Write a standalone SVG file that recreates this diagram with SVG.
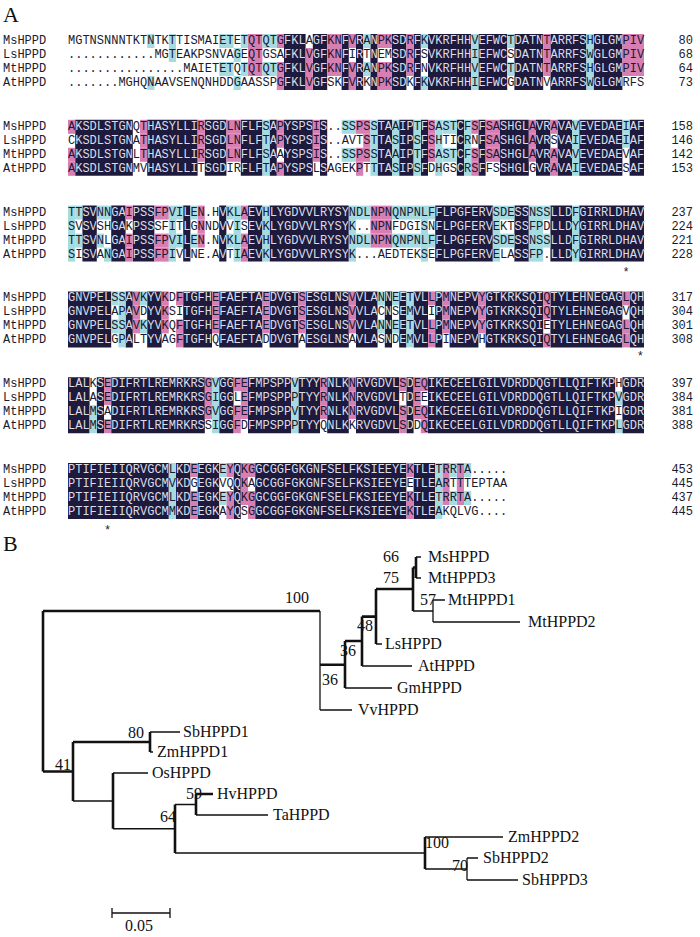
<svg xmlns="http://www.w3.org/2000/svg" xmlns:xlink="http://www.w3.org/1999/xlink" width="700" height="937" viewBox="0 0 700 937">
<style>
.mono{font-family:"Liberation Mono","Courier New",monospace;font-size:12px}
.ser{font-family:"Liberation Serif","Times New Roman",serif;font-size:16px;fill:#111}
.big{font-family:"Liberation Serif","Times New Roman",serif;font-size:22px;fill:#111}
.pk{fill:#d77fb3}.cy{fill:#a6dbe2}.dk{fill:#1d1a3e}
.th{stroke:#111;stroke-width:1.3;fill:none}
.tk{stroke:#111;stroke-width:2.6;fill:none}
</style>
<defs>
<clipPath id="k0" transform="translate(68,34) scale(7.2,1)"><rect x="30" y="0" width="3" height="56"/><rect x="34" y="0" width="2" height="56"/><rect x="38" y="0" width="1" height="56"/><rect x="40" y="0" width="1" height="56"/><rect x="42" y="0" width="1" height="56"/><rect x="45" y="0" width="2" height="56"/><rect x="48" y="0" width="1" height="56"/><rect x="50" y="0" width="6" height="56"/><rect x="57" y="0" width="4" height="56"/><rect x="62" y="0" width="4" height="56"/><rect x="67" y="0" width="5" height="56"/><rect x="73" y="0" width="4" height="56"/></clipPath>
<clipPath id="k1" transform="translate(68,119.8) scale(7.2,1)"><rect x="1" y="0" width="8" height="56"/><rect x="11" y="0" width="7" height="56"/><rect x="19" y="0" width="3" height="56"/><rect x="24" y="0" width="3" height="56"/><rect x="28" y="0" width="1" height="56"/><rect x="30" y="0" width="4" height="56"/><rect x="35" y="0" width="1" height="56"/><rect x="43" y="0" width="2" height="56"/><rect x="46" y="0" width="2" height="56"/><rect x="49" y="0" width="1" height="56"/><rect x="54" y="0" width="1" height="56"/><rect x="57" y="0" width="1" height="56"/><rect x="60" y="0" width="4" height="56"/><rect x="65" y="0" width="2" height="56"/><rect x="68" y="0" width="2" height="56"/><rect x="71" y="0" width="6" height="56"/><rect x="78" y="0" width="2" height="56"/></clipPath>
<clipPath id="k2" transform="translate(68,205.6) scale(7.2,1)"><rect x="2" y="0" width="2" height="56"/><rect x="6" y="0" width="2" height="56"/><rect x="9" y="0" width="3" height="56"/><rect x="16" y="0" width="1" height="56"/><rect x="21" y="0" width="1" height="56"/><rect x="25" y="0" width="2" height="56"/><rect x="28" y="0" width="11" height="56"/><rect x="51" y="0" width="8" height="56"/><rect x="62" y="0" width="2" height="56"/><rect x="67" y="0" width="3" height="56"/><rect x="71" y="0" width="9" height="56"/></clipPath>
<clipPath id="k3" transform="translate(68,291.4) scale(7.2,1)"><rect x="0" y="0" width="6" height="56"/><rect x="8" y="0" width="1" height="56"/><rect x="11" y="0" width="2" height="56"/><rect x="16" y="0" width="4" height="56"/><rect x="21" y="0" width="6" height="56"/><rect x="28" y="0" width="4" height="56"/><rect x="33" y="0" width="6" height="56"/><rect x="40" y="0" width="3" height="56"/><rect x="44" y="0" width="1" height="56"/><rect x="46" y="0" width="1" height="56"/><rect x="48" y="0" width="2" height="56"/><rect x="51" y="0" width="1" height="56"/><rect x="53" y="0" width="4" height="56"/><rect x="58" y="0" width="8" height="56"/><rect x="67" y="0" width="10" height="56"/><rect x="78" y="0" width="2" height="56"/></clipPath>
<clipPath id="k4" transform="translate(68,377.2) scale(7.2,1)"><rect x="0" y="0" width="3" height="56"/><rect x="4" y="0" width="1" height="56"/><rect x="6" y="0" width="13" height="56"/><rect x="21" y="0" width="2" height="56"/><rect x="25" y="0" width="6" height="56"/><rect x="32" y="0" width="3" height="56"/><rect x="36" y="0" width="3" height="56"/><rect x="40" y="0" width="6" height="56"/><rect x="47" y="0" width="1" height="56"/><rect x="50" y="0" width="26" height="56"/><rect x="77" y="0" width="3" height="56"/></clipPath>
<clipPath id="k5" transform="translate(68,463) scale(7.2,1)"><rect x="0" y="0" width="14" height="56"/><rect x="15" y="0" width="2" height="56"/><rect x="18" y="0" width="3" height="56"/><rect x="23" y="0" width="1" height="56"/><rect x="26" y="0" width="21" height="56"/><rect x="48" y="0" width="3" height="56"/></clipPath>
<g id="t0" class="mono">
<text x="3" y="44">MsHPPD</text><text x="68" y="44">MGTNSNNNTKTNTKTTISMAIETETQTQTGFKLAGFKNFVRANPKSDRFKVKRFHHVEFWCTDATNTARRFSHGLGMPIV</text><text x="693" y="44" text-anchor="end">80</text>
<text x="3" y="58">LsHPPD</text><text x="68" y="58">............MGTEAKPSNVAGEQTGSAFKLVGFKNFIRTNEMSDRFSVKRFHHIEFWCSDATNTARRFSWGLGMPIV</text><text x="693" y="58" text-anchor="end">68</text>
<text x="3" y="72">MtHPPD</text><text x="68" y="72">................MAIETETQTQTQTGFKLVGFKNFVRANPKSDRFNVKRFHHVEFWCTDATNTARRFSHGLGMPIV</text><text x="693" y="72" text-anchor="end">64</text>
<text x="3" y="86">AtHPPD</text><text x="68" y="86">.......MGHQNAAVSENQNHDDGAASSPGFKLVGFSKFVRKNPKSDKFKVKRFHHIEFWCGDATNVARRFSWGLGMRFS</text><text x="693" y="86" text-anchor="end">73</text>
</g>
<g id="t1" class="mono">
<text x="3" y="129.8">MsHPPD</text><text x="68" y="129.8">AKSDLSTGNQTHASYLLIRSGDLNFLFSAPYSPSIS..SSPSSTAAIPTFSASTCFSFSASHGLAVRAVAVEVEDAEIAF</text><text x="693" y="129.8" text-anchor="end">158</text>
<text x="3" y="143.8">LsHPPD</text><text x="68" y="143.8">CKSDLSTGNATHASYLLIRSGDLNFLFTAPYSPSIS..AVTSTTASIPSFSHTICRNFSASHGLAVRSVAIEVEDAEIAF</text><text x="693" y="143.8" text-anchor="end">146</text>
<text x="3" y="157.8">MtHPPD</text><text x="68" y="157.8">AKSDLSTGNLTHASYLLIRSGDLNFLFSAAYSPSIS..SSPSSTAAIPTFSASTCFSFSASHGLAVRAVAVEVEDAEVAF</text><text x="693" y="157.8" text-anchor="end">142</text>
<text x="3" y="171.8">AtHPPD</text><text x="68" y="171.8">AKSDLSTGNMVHASYLLITSGDIRFLFTAPYSPSLSAGEKPTTTASIPSFDHGSCRSFFSSHGLGVRAVAIEVEDAESAF</text><text x="693" y="171.8" text-anchor="end">153</text>
</g>
<g id="t2" class="mono">
<text x="3" y="215.6">MsHPPD</text><text x="68" y="215.6">TTSVNNGAIPSSFPVILEN.HVKLAEVHLYGDVVLRYSYNDLNPNQNPNLFFLPGFERVSDESSNSSLLDFGIRRLDHAV</text><text x="693" y="215.6" text-anchor="end">237</text>
<text x="3" y="229.6">LsHPPD</text><text x="68" y="229.6">SVSVSHGAKPSSSFITLGNNDVVISEVKLYGDVVLRYSYK..NPNFDGISNFLPGFERVEKTSSFPDLLDYGIRRLDHAV</text><text x="693" y="229.6" text-anchor="end">224</text>
<text x="3" y="243.6">MtHPPD</text><text x="68" y="243.6">TTSVNLGAIPSSFPVILEN.NVKLAEVHLYGDVVLRYSYNDLNPNQNPNLFFLPGFERVSDESSNSSLLDFGIRRLDHAV</text><text x="693" y="243.6" text-anchor="end">221</text>
<text x="3" y="257.6">AtHPPD</text><text x="68" y="257.6">SISVANGAIPSSFPIVLNE.AVTIAEVKLYGDVVLRYSYK...AEDTEKSEFLPGFERVELASSFP.LLDYGIRRLDHAV</text><text x="693" y="257.6" text-anchor="end">228</text>
</g>
<g id="t3" class="mono">
<text x="3" y="301.4">MsHPPD</text><text x="68" y="301.4">GNVPELSSAVKYVKDFTGFHEFAEFTAEDVGTSESGLNSVVLANNEETVLLPMNEPVYGTKRKSQIQTYLEHNEGAGLQH</text><text x="693" y="301.4" text-anchor="end">317</text>
<text x="3" y="315.4">LsHPPD</text><text x="68" y="315.4">GNVPELAPAVDYVKSITGFHEFAEFTAEDVGTSESGLNSVVLACNSEMVLIPMNEPVYGTKRKSQIQTYLEHNEGAGVQH</text><text x="693" y="315.4" text-anchor="end">304</text>
<text x="3" y="329.4">MtHPPD</text><text x="68" y="329.4">GNVPELSSAVKYVKQFTGFHEFAEFTAEDVGTSESGLNSVVLANNEETVLLPMNEPVYGTKRKSQIETYLEHNEGAGLQH</text><text x="693" y="329.4" text-anchor="end">301</text>
<text x="3" y="343.4">AtHPPD</text><text x="68" y="343.4">GNVPELGPALTYVAGFTGFHQFAEFTADDVGTAESGLNSAVLASNDEMVLLPINEPVHGTKRKSQIQTYLEHNEGAGLQH</text><text x="693" y="343.4" text-anchor="end">308</text>
</g>
<g id="t4" class="mono">
<text x="3" y="387.2">MsHPPD</text><text x="68" y="387.2">LALKSEDIFRTLREMRKRSGVGGFEFMPSPPVTYYRNLKNRVGDVLSDEQIKECEELGILVDRDDQGTLLQIFTKPHGDR</text><text x="693" y="387.2" text-anchor="end">397</text>
<text x="3" y="401.2">LsHPPD</text><text x="68" y="401.2">LALASEDIFRTLREMRKRSGIGGLEFMPSPPPTYYRNLKNRVGDVLTDEEIKECEELGILVDRDDQGTLLQIFTKPVGDR</text><text x="693" y="401.2" text-anchor="end">384</text>
<text x="3" y="415.2">MtHPPD</text><text x="68" y="415.2">LALMSADIFRTLREMRKRSGVGGFEFMPSPPVTYYRNLKNRVGDVLSDEQIKECEELGILVDRDDQGTLLQIFTKPIGDR</text><text x="693" y="415.2" text-anchor="end">381</text>
<text x="3" y="429.2">AtHPPD</text><text x="68" y="429.2">LALMSEDIFRTLREMRKRSSIGGFDFMPSPPPTYYQNLKKRVGDVLSDDQIKECEELGILVDRDDQGTLLQIFTKPLGDR</text><text x="693" y="429.2" text-anchor="end">388</text>
</g>
<g id="t5" class="mono">
<text x="3" y="473">MsHPPD</text><text x="68" y="473">PTIFIEIIQRVGCMLKDEEGKEYQKGGCGGFGKGNFSELFKSIEEYEKTLETRRTA.....</text><text x="693" y="473" text-anchor="end">453</text>
<text x="3" y="487">LsHPPD</text><text x="68" y="487">PTIFIEIIQRVGCMVKDGEGKVQQKAGCGGFGKGNFSELFKSIEEYEETLEARTTTEPTAA</text><text x="693" y="487" text-anchor="end">445</text>
<text x="3" y="501">MtHPPD</text><text x="68" y="501">PTIFIEIIQRVGCMLKDEEGKEYQKGGCGGFGKGNFSELFKSIEEYEKTLETRRTA.....</text><text x="693" y="501" text-anchor="end">437</text>
<text x="3" y="515">AtHPPD</text><text x="68" y="515">PTIFIEIIQRVGCMMKDEEGKAYQSGGCGGFGKGNFSELFKSIEEYEKTLEAKQLVG....</text><text x="693" y="515" text-anchor="end">445</text>
</g>
</defs>
<rect width="700" height="937" fill="#fff"/>
<text class="big" x="3" y="22">A</text>
<text class="big" x="3" y="551">B</text>

<g id="block1">
<rect class="dk" x="0" y="0" width="700" height="937" clip-path="url(#k0)"/>
<g class="pk" transform="translate(68,34) scale(7.2,1)">
<rect x="25" y="0" width="2" height="14"/><rect x="29" y="0" width="1" height="14"/><rect x="36" y="0" width="2" height="14"/><rect x="39" y="0" width="1" height="14"/><rect x="43" y="0" width="2" height="14"/><rect x="47" y="0" width="1" height="14"/><rect x="66" y="0" width="1" height="14"/><rect x="77" y="0" width="3" height="14"/>
<rect x="25" y="14" width="2" height="14"/><rect x="33" y="14" width="1" height="14"/><rect x="36" y="14" width="2" height="14"/><rect x="47" y="14" width="1" height="14"/><rect x="66" y="14" width="1" height="14"/><rect x="77" y="14" width="3" height="14"/>
<rect x="25" y="28" width="2" height="14"/><rect x="29" y="28" width="1" height="14"/><rect x="33" y="28" width="1" height="14"/><rect x="36" y="28" width="2" height="14"/><rect x="39" y="28" width="1" height="14"/><rect x="43" y="28" width="2" height="14"/><rect x="47" y="28" width="1" height="14"/><rect x="66" y="28" width="1" height="14"/><rect x="77" y="28" width="3" height="14"/>
<rect x="29" y="42" width="1" height="14"/><rect x="33" y="42" width="1" height="14"/><rect x="39" y="42" width="1" height="14"/><rect x="43" y="42" width="2" height="14"/>
</g>
<g class="cy" transform="translate(68,34) scale(7.2,1)">
<rect x="11" y="0" width="1" height="14"/><rect x="14" y="0" width="1" height="14"/><rect x="21" y="0" width="2" height="14"/><rect x="24" y="0" width="1" height="14"/><rect x="27" y="0" width="2" height="14"/><rect x="41" y="0" width="1" height="14"/><rect x="49" y="0" width="1" height="14"/><rect x="61" y="0" width="1" height="14"/>
<rect x="14" y="14" width="1" height="14"/><rect x="23" y="14" width="1" height="14"/>
<rect x="21" y="28" width="2" height="14"/><rect x="24" y="28" width="1" height="14"/><rect x="27" y="28" width="2" height="14"/><rect x="41" y="28" width="1" height="14"/><rect x="61" y="28" width="1" height="14"/>
<rect x="11" y="42" width="1" height="14"/><rect x="23" y="42" width="1" height="14"/><rect x="49" y="42" width="1" height="14"/>
<rect x="56" y="0" width="1" height="56"/><rect x="72" y="0" width="1" height="56"/>
</g>
<use xlink:href="#t0" fill="#1a1a30"/>
<use xlink:href="#t0" fill="#dcdce6" clip-path="url(#k0)"/>
</g>

<g id="block2">
<rect class="dk" x="0" y="0" width="700" height="937" clip-path="url(#k1)"/>
<g class="pk" transform="translate(68,119.8) scale(7.2,1)">
<rect x="0" y="0" width="1" height="14"/><rect x="10" y="0" width="1" height="14"/><rect x="18" y="0" width="1" height="14"/><rect x="22" y="0" width="2" height="14"/><rect x="29" y="0" width="1" height="14"/><rect x="34" y="0" width="1" height="14"/><rect x="40" y="0" width="2" height="14"/><rect x="50" y="0" width="1" height="14"/><rect x="56" y="0" width="1" height="14"/><rect x="58" y="0" width="2" height="14"/><rect x="64" y="0" width="1" height="14"/><rect x="67" y="0" width="1" height="14"/>
<rect x="10" y="14" width="1" height="14"/><rect x="18" y="14" width="1" height="14"/><rect x="22" y="14" width="2" height="14"/><rect x="29" y="14" width="1" height="14"/><rect x="34" y="14" width="1" height="14"/><rect x="41" y="14" width="1" height="14"/><rect x="50" y="14" width="1" height="14"/><rect x="58" y="14" width="2" height="14"/><rect x="64" y="14" width="1" height="14"/>
<rect x="0" y="28" width="1" height="14"/><rect x="10" y="28" width="1" height="14"/><rect x="18" y="28" width="1" height="14"/><rect x="22" y="28" width="2" height="14"/><rect x="34" y="28" width="1" height="14"/><rect x="40" y="28" width="2" height="14"/><rect x="50" y="28" width="1" height="14"/><rect x="56" y="28" width="1" height="14"/><rect x="58" y="28" width="2" height="14"/><rect x="64" y="28" width="1" height="14"/><rect x="67" y="28" width="1" height="14"/>
<rect x="0" y="42" width="1" height="14"/><rect x="29" y="42" width="1" height="14"/><rect x="40" y="42" width="1" height="14"/><rect x="56" y="42" width="1" height="14"/><rect x="67" y="42" width="1" height="14"/>
</g>
<g class="cy" transform="translate(68,119.8) scale(7.2,1)">
<rect x="27" y="0" width="1" height="56"/><rect x="42" y="0" width="1" height="56"/><rect x="45" y="0" width="1" height="56"/><rect x="48" y="0" width="1" height="56"/><rect x="51" y="0" width="1" height="56"/><rect x="55" y="0" width="1" height="56"/><rect x="70" y="0" width="1" height="56"/>
<rect x="38" y="0" width="2" height="14"/><rect x="52" y="0" width="2" height="14"/><rect x="77" y="0" width="1" height="14"/>
<rect x="77" y="14" width="1" height="14"/>
<rect x="38" y="28" width="2" height="14"/><rect x="52" y="28" width="2" height="14"/>
</g>
<use xlink:href="#t1" fill="#1a1a30"/>
<use xlink:href="#t1" fill="#dcdce6" clip-path="url(#k1)"/>
</g>

<g id="block3">
<rect class="dk" x="0" y="0" width="700" height="937" clip-path="url(#k2)"/>
<g class="pk" transform="translate(68,205.6) scale(7.2,1)">
<rect x="8" y="0" width="1" height="14"/><rect x="12" y="0" width="2" height="14"/><rect x="18" y="0" width="1" height="14"/><rect x="24" y="0" width="1" height="14"/><rect x="42" y="0" width="3" height="14"/>
<rect x="18" y="14" width="1" height="14"/><rect x="42" y="14" width="3" height="14"/>
<rect x="8" y="28" width="1" height="14"/><rect x="12" y="28" width="2" height="14"/><rect x="18" y="28" width="1" height="14"/><rect x="24" y="28" width="1" height="14"/><rect x="42" y="28" width="3" height="14"/>
<rect x="8" y="42" width="1" height="14"/><rect x="12" y="42" width="2" height="14"/><rect x="24" y="42" width="1" height="14"/>
</g>
<g class="cy" transform="translate(68,205.6) scale(7.2,1)">
<rect x="0" y="0" width="1" height="56"/><rect x="14" y="0" width="1" height="56"/><rect x="23" y="0" width="1" height="56"/><rect x="27" y="0" width="1" height="56"/><rect x="39" y="0" width="1" height="56"/><rect x="49" y="0" width="1" height="56"/><rect x="59" y="0" width="1" height="56"/><rect x="64" y="0" width="2" height="56"/><rect x="70" y="0" width="1" height="56"/>
<rect x="1" y="0" width="1" height="14"/><rect x="4" y="0" width="2" height="14"/><rect x="15" y="0" width="1" height="14"/><rect x="17" y="0" width="1" height="14"/><rect x="22" y="0" width="1" height="14"/><rect x="40" y="0" width="2" height="14"/><rect x="45" y="0" width="4" height="14"/><rect x="50" y="0" width="1" height="14"/><rect x="60" y="0" width="2" height="14"/><rect x="66" y="0" width="1" height="14"/>
<rect x="1" y="28" width="1" height="14"/><rect x="4" y="28" width="1" height="14"/><rect x="15" y="28" width="1" height="14"/><rect x="17" y="28" width="1" height="14"/><rect x="22" y="28" width="1" height="14"/><rect x="40" y="28" width="2" height="14"/><rect x="45" y="28" width="4" height="14"/><rect x="50" y="28" width="1" height="14"/><rect x="60" y="28" width="2" height="14"/><rect x="66" y="28" width="1" height="14"/>
<rect x="5" y="42" width="1" height="14"/>
</g>
<use xlink:href="#t2" fill="#1a1a30"/>
<use xlink:href="#t2" fill="#dcdce6" clip-path="url(#k2)"/>
<text class="mono" x="622.4" y="276" fill="#1a1a30">*</text>
</g>

<g id="block4">
<rect class="dk" x="0" y="0" width="700" height="937" clip-path="url(#k3)"/>
<g class="pk" transform="translate(68,291.4) scale(7.2,1)">
<rect x="9" y="0" width="1" height="14"/><rect x="13" y="0" width="1" height="14"/><rect x="15" y="0" width="1" height="14"/><rect x="20" y="0" width="1" height="14"/><rect x="27" y="0" width="1" height="14"/><rect x="32" y="0" width="1" height="14"/><rect x="39" y="0" width="1" height="14"/><rect x="50" y="0" width="1" height="14"/><rect x="52" y="0" width="1" height="14"/><rect x="57" y="0" width="1" height="14"/><rect x="66" y="0" width="1" height="14"/><rect x="77" y="0" width="1" height="14"/>
<rect x="9" y="14" width="1" height="14"/><rect x="13" y="14" width="1" height="14"/><rect x="20" y="14" width="1" height="14"/><rect x="27" y="14" width="1" height="14"/><rect x="32" y="14" width="1" height="14"/><rect x="39" y="14" width="1" height="14"/><rect x="52" y="14" width="1" height="14"/><rect x="57" y="14" width="1" height="14"/><rect x="66" y="14" width="1" height="14"/>
<rect x="9" y="28" width="1" height="14"/><rect x="13" y="28" width="1" height="14"/><rect x="15" y="28" width="1" height="14"/><rect x="20" y="28" width="1" height="14"/><rect x="27" y="28" width="1" height="14"/><rect x="32" y="28" width="1" height="14"/><rect x="39" y="28" width="1" height="14"/><rect x="50" y="28" width="1" height="14"/><rect x="52" y="28" width="1" height="14"/><rect x="57" y="28" width="1" height="14"/><rect x="77" y="28" width="1" height="14"/>
<rect x="15" y="42" width="1" height="14"/><rect x="50" y="42" width="1" height="14"/><rect x="66" y="42" width="1" height="14"/><rect x="77" y="42" width="1" height="14"/>
</g>
<g class="cy" transform="translate(68,291.4) scale(7.2,1)">
<rect x="7" y="0" width="1" height="56"/><rect x="47" y="0" width="1" height="56"/>
<rect x="6" y="0" width="1" height="14"/><rect x="10" y="0" width="1" height="14"/><rect x="43" y="0" width="1" height="14"/><rect x="45" y="0" width="1" height="14"/>
<rect x="6" y="28" width="1" height="14"/><rect x="10" y="28" width="1" height="14"/><rect x="43" y="28" width="1" height="14"/><rect x="45" y="28" width="1" height="14"/>
</g>
<use xlink:href="#t3" fill="#1a1a30"/>
<use xlink:href="#t3" fill="#dcdce6" clip-path="url(#k3)"/>
<text class="mono" x="636.8" y="360" fill="#1a1a30">*</text>
</g>

<g id="block5">
<rect class="dk" x="0" y="0" width="700" height="937" clip-path="url(#k4)"/>
<g class="pk" transform="translate(68,377.2) scale(7.2,1)">
<rect x="5" y="0" width="1" height="14"/><rect x="19" y="0" width="1" height="14"/><rect x="23" y="0" width="2" height="14"/><rect x="35" y="0" width="1" height="14"/><rect x="39" y="0" width="1" height="14"/><rect x="46" y="0" width="1" height="14"/><rect x="48" y="0" width="2" height="14"/>
<rect x="5" y="14" width="1" height="14"/><rect x="19" y="14" width="1" height="14"/><rect x="24" y="14" width="1" height="14"/><rect x="35" y="14" width="1" height="14"/><rect x="39" y="14" width="1" height="14"/><rect x="48" y="14" width="1" height="14"/>
<rect x="19" y="28" width="1" height="14"/><rect x="23" y="28" width="2" height="14"/><rect x="35" y="28" width="1" height="14"/><rect x="39" y="28" width="1" height="14"/><rect x="46" y="28" width="1" height="14"/><rect x="48" y="28" width="2" height="14"/>
<rect x="5" y="42" width="1" height="14"/><rect x="23" y="42" width="1" height="14"/><rect x="46" y="42" width="1" height="14"/><rect x="49" y="42" width="1" height="14"/>
</g>
<g class="cy" transform="translate(68,377.2) scale(7.2,1)">
<rect x="20" y="0" width="1" height="56"/><rect x="31" y="0" width="1" height="56"/>
<rect x="76" y="14" width="1" height="14"/><rect x="3" y="28" width="1" height="14"/><rect x="3" y="42" width="1" height="14"/><rect x="76" y="42" width="1" height="14"/>
</g>
<use xlink:href="#t4" fill="#1a1a30"/>
<use xlink:href="#t4" fill="#dcdce6" clip-path="url(#k4)"/>
</g>

<g id="block6">
<rect class="dk" x="0" y="0" width="700" height="937" clip-path="url(#k5)"/>
<g class="pk" transform="translate(68,463) scale(7.2,1)">
<rect x="17" y="0" width="1" height="14"/><rect x="22" y="0" width="1" height="14"/><rect x="24" y="0" width="2" height="14"/><rect x="47" y="0" width="1" height="14"/><rect x="52" y="0" width="1" height="14"/><rect x="54" y="0" width="1" height="14"/>
<rect x="24" y="14" width="1" height="14"/><rect x="52" y="14" width="1" height="14"/><rect x="54" y="14" width="1" height="14"/>
<rect x="17" y="28" width="1" height="14"/><rect x="22" y="28" width="1" height="14"/><rect x="24" y="28" width="2" height="14"/><rect x="47" y="28" width="1" height="14"/><rect x="52" y="28" width="1" height="14"/><rect x="54" y="28" width="1" height="14"/>
<rect x="17" y="42" width="1" height="14"/><rect x="22" y="42" width="1" height="14"/><rect x="25" y="42" width="1" height="14"/><rect x="47" y="42" width="1" height="14"/>
</g>
<g class="cy" transform="translate(68,463) scale(7.2,1)">
<rect x="14" y="0" width="1" height="56"/><rect x="51" y="0" width="1" height="56"/>
<rect x="21" y="0" width="1" height="14"/><rect x="53" y="0" width="1" height="14"/><rect x="55" y="0" width="1" height="14"/>
<rect x="21" y="28" width="1" height="14"/><rect x="53" y="28" width="1" height="14"/><rect x="55" y="28" width="1" height="14"/>
</g>
<use xlink:href="#t5" fill="#1a1a30"/>
<use xlink:href="#t5" fill="#dcdce6" clip-path="url(#k5)"/>
<text class="mono" x="104" y="534" fill="#1a1a30">*</text>
</g>

<g id="connectors">
<path class="tk" d="M43,611V771.5M43,611H320M320,664.7H345M345,641V688M345,641H362M362,616.6V666M362,616.6H376M376,589V644M376,589H413M413,567.5V611M413,567.5H416M416,557V578"/>
<path class="th" d="M320,611V710M416,557H421M416,578H421M413,611H433M433,600V622M433,600H445M433,622H520M376,644H382M362,666H412M345,688H392M320,710H352"/>
<path class="tk" d="M43,771.5H73M73,742V801M73,742H150M150,732V752M113,773V828.75M175,804.5V853M196,794V815M196,794H213M425,837V869M425,853"/>
<path class="th" d="M150,732H180M150,752H153M73,801H113M113,773H148M113,828.75H175M175,804.5H196M196,815H268M175,853H425M425,837H503M425,869H467M467,858V880M467,858H478M467,880H518"/>
<path class="th" d="M112,913H170M112,908V918M170,908V918"/>
</g>

<g id="leaves" class="ser">
<text x="428" y="562">MsHPPD</text>
<text x="428" y="583">MtHPPD3</text>
<text x="448" y="605">MtHPPD1</text>
<text x="528" y="627">MtHPPD2</text>
<text x="385" y="649">LsHPPD</text>
<text x="418" y="671">AtHPPD</text>
<text x="397" y="693">GmHPPD</text>
<text x="358" y="715">VvHPPD</text>
<text x="183" y="737">SbHPPD1</text>
<text x="157" y="757">ZmHPPD1</text>
<text x="152" y="778">OsHPPD</text>
<text x="217" y="799">HvHPPD</text>
<text x="273" y="820">TaHPPD</text>
<text x="508" y="842">ZmHPPD2</text>
<text x="483" y="863">SbHPPD2</text>
<text x="522" y="885">SbHPPD3</text>
</g>
<g id="bootstrap" class="ser">
<text x="383" y="562">66</text>
<text x="383" y="583">75</text>
<text x="420" y="605">57</text>
<text x="357" y="631">48</text>
<text x="340" y="656">36</text>
<text x="322" y="685">36</text>
<text x="285" y="603">100</text>
<text x="128" y="738">80</text>
<text x="186" y="799">59</text>
<text x="160" y="822">64</text>
<text x="55" y="770">41</text>
<text x="425" y="848">100</text>
<text x="452" y="871">70</text>
</g>
<text class="ser" x="125" y="931">0.05</text>
</svg>
